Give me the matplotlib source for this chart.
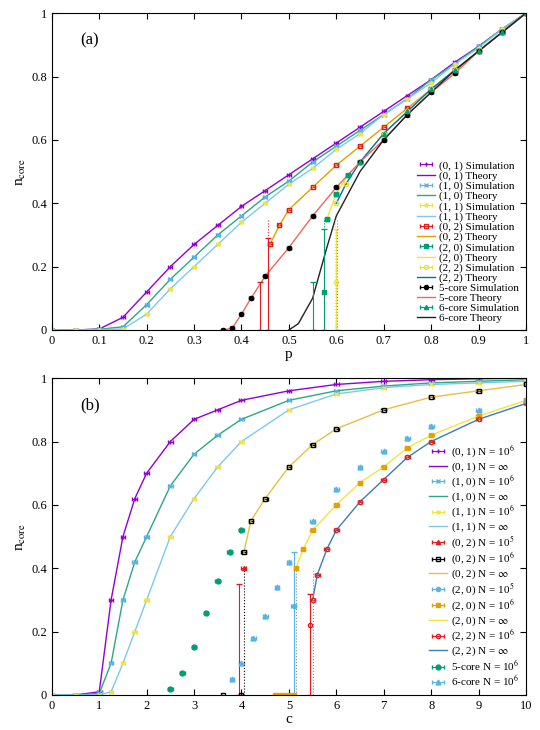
import numpy as np
import matplotlib
matplotlib.use("Agg")
import matplotlib.pyplot as plt

plt.rcParams['font.family'] = ['Liberation Serif', 'DejaVu Serif']
plt.rcParams['mathtext.fontset'] = 'stix'

# ---------- panel (a) data ----------
pa = [0,0.05,0.1,0.15,0.2,0.25,0.3,0.35,0.4,0.45,0.5,0.55,0.6,0.65,0.7,0.75,0.8,0.85,0.9,0.95,1.0]
n01_a = [0,0,0.003,0.04,0.12,0.2,0.27,0.33,0.39,0.44,0.49,0.54,0.59,0.64,0.69,0.74,0.79,0.845,0.895,0.95,1]
n10_a = [0,0,0.002,0.01,0.08,0.16,0.23,0.3,0.36,0.42,0.47,0.53,0.58,0.63,0.68,0.73,0.79,0.84,0.895,0.95,1]
n11_a = [0,0,0.001,0.003,0.05,0.13,0.2,0.27,0.34,0.4,0.46,0.51,0.57,0.62,0.68,0.73,0.78,0.84,0.89,0.95,1]
x02_a = [0.46,0.48,0.5,0.55,0.6,0.65,0.7,0.75,0.8,0.85,0.9,0.95,1.0]
n02_a = [0.27,0.33,0.38,0.45,0.52,0.58,0.64,0.7,0.76,0.82,0.88,0.94,1]
x5_a = [0.36,0.38,0.4,0.42,0.45,0.5,0.55,0.6,0.65,0.7,0.75,0.8,0.85,0.9,0.95,1.0]
n5_a = [0,0.005,0.05,0.1,0.17,0.26,0.36,0.45,0.53,0.6,0.68,0.75,0.81,0.88,0.94,1]
x20_a = [0.58,0.6,0.625,0.65,0.7,0.75,0.8,0.85,0.9,0.95,1.0]
n20_a = [0.35,0.43,0.49,0.53,0.62,0.69,0.76,0.82,0.88,0.94,1]
x22_a = [0.6,0.62,0.65,0.7,0.75,0.8,0.85,0.9,0.95,1.0]
n22_a = [0.4,0.46,0.53,0.62,0.69,0.76,0.82,0.88,0.94,1]
x6_a = [0.5,0.52,0.55,0.58,0.6,0.65,0.7,0.75,0.8,0.85,0.9,0.95,1.0]
n6_a = [0,0.02,0.1,0.26,0.36,0.5,0.6,0.68,0.75,0.82,0.88,0.94,1]

# ---------- panel (b) data ----------
cb = [0,0.5,1.0,1.25,1.5,1.75,2,2.5,3,3.5,4,5,6,7,8,9,10]
n01_b = [0,0,0.01,0.3,0.5,0.62,0.7,0.8,0.87,0.9,0.93,0.96,0.98,0.99,0.995,0.998,1]
n10_b = [0,0,0.005,0.1,0.3,0.42,0.5,0.66,0.76,0.82,0.87,0.93,0.96,0.975,0.985,0.99,0.995]
n11_b = [0,0,0,0.01,0.1,0.2,0.3,0.5,0.62,0.72,0.8,0.9,0.95,0.97,0.98,0.985,0.99]
x02_b = [4.05,4.2,4.5,5,5.5,6,7,8,9,10]
n02_b = [0.45,0.55,0.62,0.72,0.79,0.84,0.9,0.94,0.96,0.98]
x5_b = [2.5,2.75,3,3.25,3.5,3.75,4.0]
n5_b = [0.02,0.07,0.15,0.26,0.36,0.45,0.52]
x6_b = [3.8,4.0,4.25,4.5,4.75,5,5.5,6,6.5,7,7.5,8,9,10]
n6_b = [0.05,0.1,0.18,0.25,0.34,0.42,0.55,0.65,0.72,0.77,0.81,0.85,0.9,0.93]
x20_b = [5.15,5.3,5.5,6,6.5,7,7.5,8,9,10]
n20_b = [0.4,0.46,0.52,0.6,0.67,0.72,0.78,0.82,0.88,0.93]
x22_b = [5.5,5.6,5.8,6,6.5,7,7.5,8,9,10]
n22_b = [0.3,0.38,0.46,0.52,0.61,0.68,0.75,0.8,0.87,0.92]

PURPLE='#9400d3'; SKY='#56b4e9'; TEAL='#2ca87f'; YEL='#f0e442'; RED='#e41a1c'
ORNG='#e69f00'; GRN='#009e73'; BLUE='#0072b2'; SALMON='#f4665a'; GOLD='#e8c040'

fig = plt.figure(figsize=(5.4,7.3), dpi=100)
axa = fig.add_axes([0.096,0.548,0.878,0.434])
axb = fig.add_axes([0.096,0.048,0.878,0.434])
H = {axa: [], axb: []}

def sim(ax, x, y, c, m, label, mfc=None, ms=3):
    h = ax.errorbar(x, y, xerr=0.004 if ax is axa else 0.05, fmt=m, color=c, ms=ms, lw=0.8,
                    mfc=mfc if mfc else c, capsize=1.5, label=label)
    H[ax].append(h)

def th(ax, x, y, c, label):
    h, = ax.plot(x, y, color=c, lw=1, label=label)
    H[ax].append(h)

# panel a
sim(axa, pa, n01_a, PURPLE, '+', '(0, 1) Simulation')
th(axa, pa, n01_a, PURPLE, '(0, 1) Theory')
sim(axa, pa, n10_a, SKY, 'x', '(1, 0) Simulation')
th(axa, pa, n10_a, TEAL, '(1, 0) Theory')
sim(axa, pa, n11_a, YEL, '*', '(1, 1) Simulation')
th(axa, pa, n11_a, '#7ec8f0', '(1, 1) Theory')
sim(axa, x02_a, n02_a, RED, 's', '(0, 2) Simulation', mfc='none')
th(axa, x02_a, n02_a, ORNG, '(0, 2) Theory')
sim(axa, x20_a, n20_a, GRN, 's', '(2, 0) Simulation')
th(axa, x20_a, n20_a, YEL, '(2, 0) Theory')
sim(axa, x22_a, n22_a, '#e8e040', 'o', '(2, 2) Simulation', mfc='none')
th(axa, x22_a, n22_a, BLUE, '(2, 2) Theory')
sim(axa, x5_a, n5_a, 'black', 'o', '5-core Simulation')
th(axa, x5_a, n5_a, SALMON, '5-core Theory')
sim(axa, x20_a, n20_a, GRN, '^', '6-core Simulation')
th(axa, x6_a, n6_a, '#222222', '6-core Theory')
axa.errorbar([0.455],[0.15],yerr=[[0.15],[0.14]],color=RED,capsize=2,lw=0.8)
axa.errorbar([0.44],[0.05],yerr=[[0.05],[0.1]],color=RED,capsize=2,lw=0.8)
axa.errorbar([0.575],[0.12],yerr=[[0.12],[0.2]],color=GRN,capsize=2,lw=0.8,fmt='s',ms=3)
axa.errorbar([0.55],[0.05],yerr=[[0.05],[0.1]],color=GRN,capsize=2,lw=0.8)
axa.errorbar([0.6],[0.15],yerr=[[0.15],[0.17]],color=YEL,capsize=2,lw=0.8,fmt='o',mfc='none',ms=3)
for xv,c in [(0.455,RED),(0.575,GRN),(0.598,YEL),(0.602,'#888888')]:
    axa.plot([xv,xv],[0,0.35],ls=':',color=c,lw=0.8)
axa.set_xlim(0,1); axa.set_ylim(0,1)
axa.set_xticks(np.arange(0,1.01,0.1)); axa.set_xticklabels(['0','0.1','0.2','0.3','0.4','0.5','0.6','0.7','0.8','0.9','1'])
axa.set_yticks(np.arange(0,1.01,0.2)); axa.set_yticklabels(['0','0.2','0.4','0.6','0.8','1'])
axa.set_xlabel('p', fontsize=11, labelpad=1)
axa.set_ylabel(r'n$_{\rm core}$', fontsize=11, labelpad=2)
axa.text(0.06,0.9,'(a)',transform=axa.transAxes,fontsize=12)

# panel b
sim(axb, cb, n01_b, PURPLE, '+', r'(0, 1) N = 10$^6$')
th(axb, cb, n01_b, PURPLE, r'(0, 1) N = $\infty$')
sim(axb, cb, n10_b, SKY, 'x', r'(1, 0) N = 10$^6$')
th(axb, cb, n10_b, TEAL, r'(1, 0) N = $\infty$')
sim(axb, cb, n11_b, YEL, 'x', r'(1, 1) N = 10$^6$')
th(axb, cb, n11_b, '#7ec8f0', r'(1, 1) N = $\infty$')
sim(axb, [4.05], [0.4], RED, '^', r'(0, 2) N = 10$^5$')
sim(axb, x02_b, n02_b, 'black', 's', r'(0, 2) N = 10$^6$', mfc='none')
th(axb, x02_b, n02_b, GOLD, r'(0, 2) N = $\infty$')
sim(axb, [5.1], [0.28], SKY, 'o', r'(2, 0) N = 10$^5$')
sim(axb, x20_b, n20_b, ORNG, 's', r'(2, 0) N = 10$^6$')
th(axb, x20_b, n20_b, YEL, r'(2, 0) N = $\infty$')
sim(axb, x22_b, n22_b, RED, 'o', r'(2, 2) N = 10$^6$', mfc='none')
th(axb, x22_b, n22_b, '#3a7cc0', r'(2, 2) N = $\infty$')
sim(axb, x5_b, n5_b, GRN, 'o', r'5-core N = 10$^6$', ms=3.5)
sim(axb, x6_b, n6_b, SKY, '^', r'6-core N = 10$^6$', ms=3.5)
axb.errorbar([3.95],[0.15],yerr=[[0.15],[0.2]],color=RED,capsize=2,lw=0.8)
axb.errorbar([5.1],[0.28],yerr=[[0.28],[0.17]],color=SKY,capsize=2,lw=0.8)
axb.errorbar([5.45],[0.22],yerr=[[0.22],[0.1]],color=RED,capsize=2,lw=0.8,fmt='o',mfc='none',ms=3)
for xv,c in [(4.05,'black'),(5.15,'#888888'),(5.5,'#888888')]:
    axb.plot([xv,xv],[0,0.4],ls=':',color=c,lw=0.8)
axb.plot([3.6,4.0],[0,0],'s',color='black',ms=3,mfc='none')
axb.plot([4.7,4.8,4.9,5.0,5.1],[0,0,0,0,0],'s',color=ORNG,ms=3)
axb.set_xlim(0,10); axb.set_ylim(0,1)
axb.set_xticks(range(0,11))
axb.set_yticks(np.arange(0,1.01,0.2)); axb.set_yticklabels(['0','0.2','0.4','0.6','0.8','1'])
axb.set_xlabel('c', fontsize=11, labelpad=1)
axb.set_ylabel(r'n$_{\rm core}$', fontsize=11, labelpad=2)
axb.text(0.06,0.9,'(b)',transform=axb.transAxes,fontsize=12)

for ax in (axa, axb):
    ax.legend(handles=H[ax], loc='lower right', frameon=False, fontsize=8, labelspacing=0.02,
              handlelength=1.6, handletextpad=0.4, borderaxespad=0.2)
    ax.tick_params(direction='in', top=True, right=True, labelsize=9, length=4)

fig.savefig('out.png', dpi=100)
